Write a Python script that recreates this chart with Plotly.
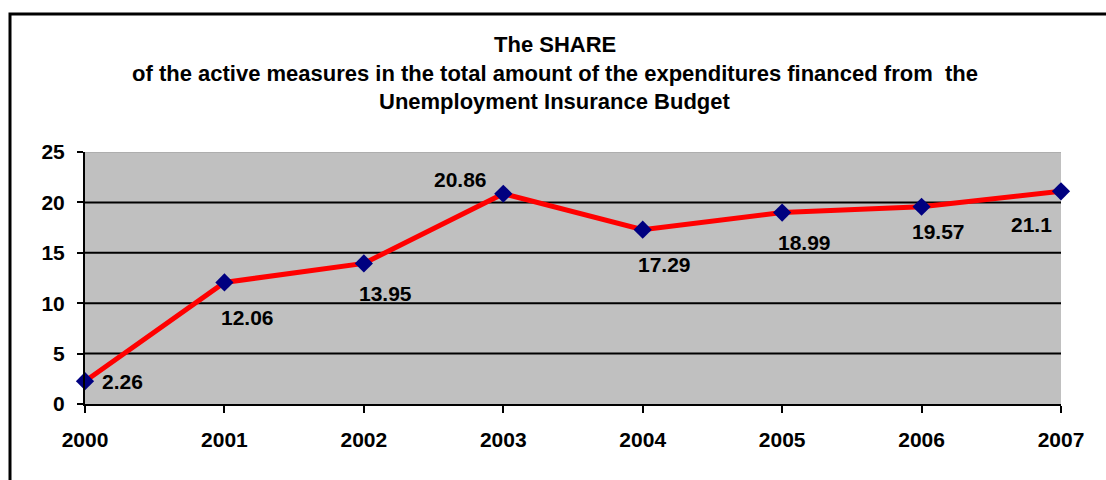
import plotly.graph_objects as go

years = [2000, 2001, 2002, 2003, 2004, 2005, 2006, 2007]
share = [2.26, 12.06, 13.95, 20.86, 17.29, 18.99, 19.57, 21.1]
value_labels = ["2.26", "12.06", "13.95", "20.86", "17.29", "18.99", "19.57", "21.1"]
y_ticks = [0, 5, 10, 15, 20, 25]
title_lines = [
    "The SHARE",
    "of the active measures in the total amount of the expenditures financed from\u00a0 the",
    "Unemployment Insurance Budget",
]

# label offsets in px (dx right, dy down)
label_offsets = [(37, 0), (23, 35), (22, 30), (-43, -14), (22, 35), (22, 30), (17, 25), (-30, 33)]

FONT = "Liberation Sans, Arial, sans-serif"

fig = go.Figure()
fig.add_trace(go.Scatter(
    x=years, y=share, mode="lines+markers",
    line=dict(color="#FF0000", width=5),
    marker=dict(symbol="diamond", size=14, color="#000080", line=dict(width=0)),
    cliponaxis=False, showlegend=False, hoverinfo="x+y",
))

annotations = []
for x, y, t, (dx, dy) in zip(years, share, value_labels, label_offsets):
    annotations.append(dict(
        x=x, y=y, xref="x", yref="y", text=t, showarrow=False,
        xshift=dx, yshift=-dy, xanchor="center", yanchor="middle",
        font=dict(family=FONT, size=21, color="black", weight="bold"),
    ))

title_y_px = [45, 73, 101]
for line, ypx in zip(title_lines, title_y_px):
    annotations.append(dict(
        x=(555 - 85) / 976, y=(404 - ypx) / 252, xref="paper", yref="paper",
        text=line, showarrow=False, xanchor="center", yanchor="middle",
        font=dict(family=FONT, size=22, color="black", weight="bold"),
    ))

shapes = []
# gridlines at inner ticks
for v in y_ticks[1:-1]:
    shapes.append(dict(type="line", xref="paper", yref="y", x0=0, x1=1, y0=v, y1=v,
                       line=dict(color="black", width=2), layer="below"))
# light top border of plot area
shapes.append(dict(type="line", xref="paper", yref="y", x0=0, x1=1, y0=y_ticks[-1], y1=y_ticks[-1],
                   line=dict(color="#A8A8A8", width=1.5), layer="below"))
# outer chart border
shapes.append(dict(type="rect", xref="paper", yref="paper",
                   x0=(10 - 85) / 976, x1=1.2, y0=-0.6, y1=(404 - 14) / 252,
                   line=dict(color="black", width=3), fillcolor="rgba(0,0,0,0)", layer="above"))

fig.update_layout(
    width=1106, height=480,
    margin=dict(l=85, r=45, t=152, b=76),
    paper_bgcolor="white", plot_bgcolor="#C0C0C0",
    font=dict(family=FONT, color="black"),
    annotations=annotations, shapes=shapes,
    xaxis=dict(
        range=[years[0], years[-1]], tickvals=years, ticktext=[str(y) for y in years],
        showgrid=False, zeroline=False, showline=True, linecolor="black", linewidth=2,
        ticks="outside", ticklen=7, tickwidth=2, tickcolor="black",
        tickfont=dict(family=FONT, size=21, color="black", weight="bold"),
        ticklabelstandoff=9,
    ),
    yaxis=dict(
        range=[y_ticks[0], y_ticks[-1]], tickvals=y_ticks,
        showgrid=False, zeroline=False, showline=True, linecolor="black", linewidth=2,
        ticks="outside", ticklen=6, tickwidth=2, tickcolor="black",
        tickfont=dict(family=FONT, size=21, color="black", weight="bold"),
        ticklabelstandoff=8,
    ),
)

fig.write_html("out.html")
